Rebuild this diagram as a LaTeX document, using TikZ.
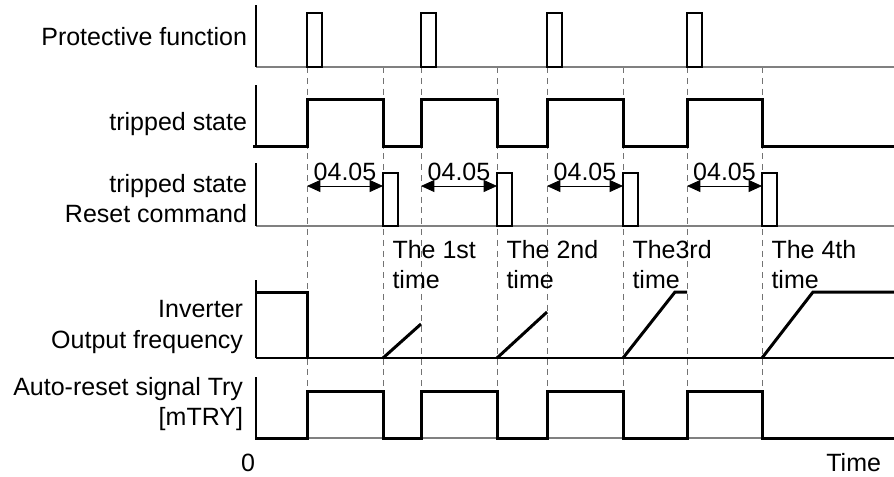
\documentclass[tikz,border=0pt]{standalone}
\usepackage{fontspec}
\setmainfont{Liberation Sans}
\usetikzlibrary{arrows.meta}
\begin{document}
\begin{tikzpicture}[x=0.75pt,y=-0.75pt,
  lbl/.style={font=\fontsize{18.75}{22.5}\selectfont, inner sep=0pt, outer sep=0pt},
  axis/.style={line width=0.9pt, black},
  gbase/.style={line width=1.1pt, black!50},
  tbase/.style={line width=0.8pt, black},
  sig/.style={line width=2.25pt, black, line join=miter, line cap=rect},
  pulse/.style={line width=1.9pt, black},
  guide/.style={black!55, line width=0.75pt, dash pattern=on 4.5pt off 3.6pt},
  dim/.style={{Triangle[length=10pt,width=9pt]}-{Triangle[length=10pt,width=9pt]}, line width=0.6pt, black}]
\useasboundingbox (0,0) rectangle (894,476);

% dashed guide lines
\foreach \x in {307,383,421,497,547,623,687,762}
  \draw[guide] (\x,67) -- (\x,391);

% left labels
\node[lbl, anchor=base east] (l1) at (247,45) {Protective function};
\node[lbl, anchor=base east] (l2) at (247,130) {tripped state};
\node[lbl, anchor=base east] (l3a) at (247,192) {tripped state};
\node[lbl, anchor=base east] (l3b) at (247,222) {Reset command};
\node[lbl, anchor=base east] (l4a) at (243,317) {Inverter};
\node[lbl, anchor=base east] (l4b) at (243,348) {Output frequency};
\node[lbl, anchor=base east] (l5a) at (243,395) {Auto-reset signal Try};
\node[lbl, anchor=base east] (l5b) at (243,425) {[mTRY]};
\node[lbl, anchor=base] (zero) at (248,471) {0};
\node[lbl, anchor=base east] (time) at (881,471) {Time};

% row 1: protective function
\draw[gbase] (256,67) -- (894,67);
\draw[axis] (256,5) -- (256,67);
\foreach \t in {307,421,547,687}
  \draw[pulse, fill=white] (\t,67) rectangle (\t+15,13);

% row 2: tripped state
\draw[axis] (256,85) -- (256,146);
\draw[sig] (254,146) -- (307,146) -- (307,99) -- (383,99) -- (383,146)
  -- (421,146) -- (421,99) -- (497,99) -- (497,146)
  -- (547,146) -- (547,99) -- (623,99) -- (623,146)
  -- (687,146) -- (687,99) -- (762,99) -- (762,146) -- (894,146);

% row 3: reset command
\draw[gbase] (256,226) -- (894,226);
\draw[axis] (256,163) -- (256,226);
\foreach \r in {383,497,623,762}
  \draw[pulse, fill=white] (\r,226) rectangle (\r+15,173);
\foreach \t/\r/\i in {307/383/1, 421/497/2, 547/623/3, 687/762/4} {
  \coordinate (as\i) at (\t,186);
  \coordinate (ae\i) at (\r,186);
  \draw[dim] (as\i) -- (ae\i);
  \node[lbl, anchor=base] (d\i) at ({(\t+\r)/2},180) {04.05};
}

% ordinal labels
\node[lbl, anchor=base west] (n1a) at (392.5,258) {The 1st};
\node[lbl, anchor=base west] (n1b) at (392.5,288) {time};
\node[lbl, anchor=base west] (n2a) at (506.5,258) {The 2nd};
\node[lbl, anchor=base west] (n2b) at (506.5,288) {time};
\node[lbl, anchor=base west] (n3a) at (632.5,258) {The3rd};
\node[lbl, anchor=base west] (n3b) at (632.5,288) {time};
\node[lbl, anchor=base west] (n4a) at (771.5,258) {The 4th};
\node[lbl, anchor=base west] (n4b) at (771.5,288) {time};

% row 4: inverter output frequency
\draw[tbase] (256,358) -- (894,358);
\draw[axis] (256,280) -- (256,358);
\draw[sig, line cap=butt] (256,292) -- (307,292) -- (307,358);
\draw[sig, line cap=butt] (383,358) -- (421,324);
\draw[sig, line cap=butt] (497,358) -- (547,312);
\draw[sig, line cap=butt] (623,358) -- (675,292) -- (687,292);
\draw[sig, line cap=butt] (762,358) -- (813,292) -- (894,292);

% row 5: auto-reset signal
\draw[gbase] (256,438) -- (894,438);
\draw[axis] (256,377) -- (256,438);
\draw[sig] (256,438) -- (307,438) -- (307,391) -- (383,391) -- (383,438)
  -- (421,438) -- (421,391) -- (497,391) -- (497,438)
  -- (547,438) -- (547,391) -- (623,391) -- (623,438)
  -- (687,438) -- (687,391) -- (762,391) -- (762,438) -- (894,438);
\end{tikzpicture}
\end{document}
